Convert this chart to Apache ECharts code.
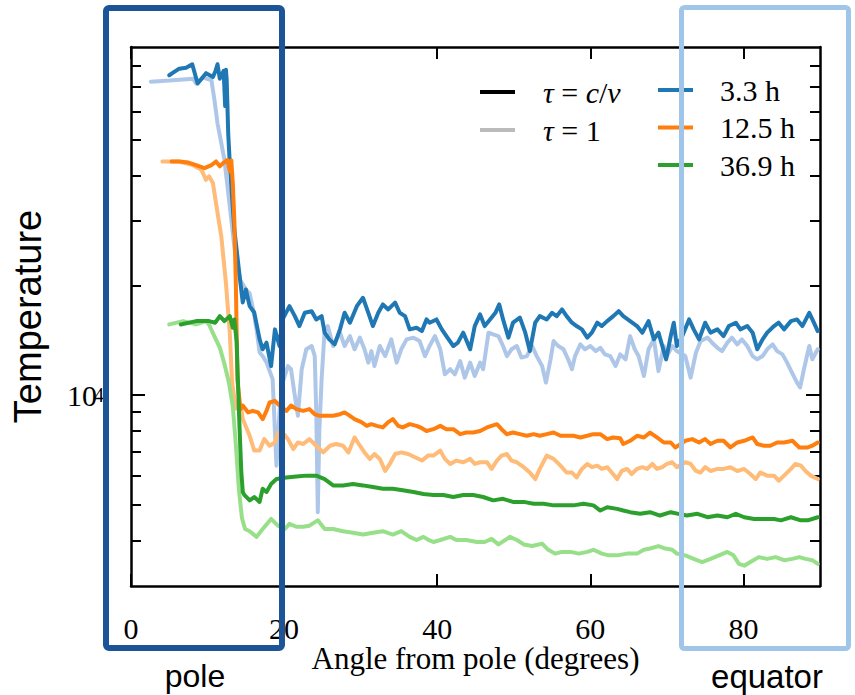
<!DOCTYPE html>
<html>
<head>
<meta charset="utf-8">
<script src="https://cdn.jsdelivr.net/npm/echarts@6/dist/echarts.min.js"></script>
<style>
  html, body { margin: 0; padding: 0; background: #fff; }
  #chart { width: 855px; height: 695px; }
</style>
</head>
<body>
<div id="chart"></div>
<script>
// Axis ticks and ranges
const angleTicks = [0, 20, 40, 60, 80];
const angleRange = [0, 90];
const tempRange = [3000, 90000];
const tempMajorTicks = [10000];
const tempMinorTicks = [4000, 5000, 6000, 7000, 8000, 9000, 20000, 30000, 40000, 50000, 60000, 70000, 80000];

// Legend entries
const times = ['3.3 h', '12.5 h', '36.9 h'];
const depthLabels = ['τ = c/v', 'τ = 1'];

// Temperature (K) against angle from pole (degrees), [angle, T]
const blueCv = [[5.0,75300],[5.4,76300],[6.3,78500],[7.2,79000],[8.0,80700],[8.7,71500],[9.8,76300],[10.7,74500],[11.0,77000],[11.3,80700],[11.6,73700],[12.1,77400],[12.3,62000],[12.4,78000],[12.5,73000],[12.7,52000],[12.9,43300],[13.5,28400],[14.2,21100],[14.6,17960],[15.0,19480],[15.5,17540],[16.1,16850],[16.8,14220],[17.2,13360],[17.7,13930],[18.3,12020],[18.8,15150],[19.4,13640],[19.8,16130],[20.7,17540],[21.4,16470],[22.0,15470],[22.7,16820],[23.6,16990],[24.2,16130],[24.9,16470],[25.3,14840],[25.9,14220],[26.6,13780],[27.3,15150],[27.9,16820],[28.6,15800],[29.5,17540],[30.3,18490],[31.0,16820],[31.6,15470],[32.3,16820],[32.9,17730],[33.6,17180],[34.5,17940],[35.1,16820],[35.8,16470],[36.4,15150],[37.3,15300],[38.0,14990],[38.6,16130],[39.0,15800],[39.9,16130],[40.6,15150],[41.2,14520],[42.1,13640],[42.7,13930],[43.4,14840],[44.3,13360],[44.9,15470],[45.6,16650],[46.2,15470],[46.9,16130],[47.6,16820],[48.1,17730],[48.6,16130],[49.3,14380],[49.9,15800],[50.8,16310],[51.5,14840],[52.1,13210],[52.8,15800],[53.4,16470],[54.3,16130],[55.0,16820],[55.6,16470],[56.3,17180],[56.9,16470],[57.6,15800],[58.2,15470],[58.9,15150],[59.6,14380],[60.2,14840],[60.9,15800],[61.5,15470],[62.2,15960],[63.0,16470],[63.7,16990],[64.3,16470],[65.2,15960],[66.1,15470],[66.8,14840],[67.6,15960],[68.3,14220],[68.9,14840],[69.4,13640],[69.9,12540],[70.5,14520],[70.9,15800],[71.3,13640],[72.0,14500],[72.9,16130],[73.5,15150],[74.2,14220],[75.0,15800],[75.7,14840],[76.6,15150],[77.4,14520],[78.1,15470],[79.0,15800],[79.6,15150],[80.5,15470],[81.2,14840],[81.8,13360],[82.5,14220],[83.1,14840],[84.0,15470],[84.6,15800],[85.3,15150],[86.2,15960],[87.0,16130],[87.7,15470],[88.6,16820],[89.2,15800],[89.7,14990]];

const blueTau1 = [[2.6,72300],[5.0,72800],[8.1,73700],[8.5,71500],[9.4,74200],[10.5,73000],[10.9,64400],[11.3,55600],[11.8,49000],[12.2,44200],[12.9,33000],[13.6,24500],[14.3,20600],[15.0,19500],[15.5,19000],[16.0,17000],[16.4,15150],[16.8,13090],[17.2,12800],[17.7,12300],[18.5,11060],[19.0,6410],[19.4,9000],[19.8,10830],[20.5,12020],[20.9,11780],[21.4,9960],[21.8,8780],[22.3,11780],[22.9,13360],[23.6,13640],[24.0,12800],[24.2,9000],[24.4,4780],[24.6,8000],[24.9,11060],[25.3,15150],[25.7,15470],[26.4,13640],[27.3,14840],[27.9,13640],[28.6,14520],[29.2,13360],[29.9,14380],[30.5,13360],[31.0,12280],[31.4,13210],[31.8,12020],[32.5,13640],[33.2,12800],[34.0,14220],[34.7,12280],[35.3,13360],[36.0,14220],[36.9,14380],[37.7,14080],[38.4,12800],[39.0,13640],[39.7,14520],[40.4,13360],[41.0,11410],[41.7,11780],[42.3,11410],[43.0,12400],[43.6,11170],[44.3,12280],[44.9,11290],[45.6,12280],[46.0,11780],[46.7,14840],[47.3,14680],[48.0,14520],[48.6,13640],[49.1,12800],[49.7,13360],[50.4,13640],[51.0,12680],[51.7,12800],[52.4,13640],[53.0,12800],[53.7,12020],[54.2,10830],[54.8,12540],[55.2,14080],[55.8,13640],[56.5,13360],[57.1,12540],[57.6,11780],[58.0,12800],[58.7,13780],[59.3,13360],[60.0,13640],[60.7,13210],[61.3,13490],[61.9,12940],[62.6,12800],[63.3,12020],[63.9,12940],[64.6,12540],[65.2,14520],[65.8,13360],[66.3,12800],[67.0,11290],[67.6,13360],[68.3,14220],[68.9,11640],[69.6,13640],[70.0,12800],[70.7,13640],[71.3,13210],[72.4,12800],[73.1,11170],[73.8,13090],[74.4,14080],[75.3,14380],[75.9,13930],[76.6,13490],[77.2,13210],[77.9,13930],[78.5,14380],[79.2,13780],[79.8,14220],[80.5,13640],[81.2,12800],[81.8,12540],[82.5,12800],[83.1,13360],[83.8,13780],[84.4,13210],[85.1,12940],[85.7,12280],[86.4,11460],[87.0,10830],[87.4,10500],[87.9,11780],[88.6,13640],[89.0,12540],[89.7,13360]];

const orangeCv = [[5.3,43700],[6.3,43700],[7.5,43400],[8.5,42700],[9.6,41900],[10.5,42700],[11.1,43700],[11.6,42400],[12.0,43200],[12.6,44150],[12.9,41000],[13.1,44000],[13.3,38000],[13.5,30000],[13.7,20000],[13.9,11000],[14.3,9160],[14.6,9370],[15.3,8970],[15.9,9060],[16.6,8970],[17.2,8600],[17.7,9060],[18.1,9550],[18.8,9650],[19.4,9370],[20.3,9060],[20.9,9370],[21.6,9160],[22.5,9060],[23.3,9160],[24.0,8870],[24.6,8780],[25.5,8780],[26.4,8780],[27.3,8870],[27.9,8970],[28.6,8780],[29.2,8600],[30.1,8440],[30.8,8240],[31.4,8330],[32.1,8240],[32.9,8160],[33.6,8440],[34.2,8600],[34.9,8240],[35.5,8160],[36.4,8330],[37.3,8240],[38.0,8120],[38.6,7980],[39.5,8070],[40.4,8240],[41.2,8070],[42.1,8070],[43.0,7820],[43.8,7900],[44.7,7900],[45.6,7980],[46.5,8160],[47.1,8240],[47.8,8330],[48.4,8070],[49.1,7820],[49.9,7900],[50.8,7820],[51.7,7740],[52.6,7820],[53.4,7740],[54.3,7820],[55.2,7900],[56.1,7740],[56.9,7740],[57.8,7740],[58.7,7660],[59.6,7740],[60.4,7820],[61.3,7820],[62.2,7580],[63.0,7660],[63.9,7620],[64.3,7350],[65.2,7500],[66.1,7740],[67.0,7660],[67.8,7900],[68.7,7660],[69.6,7420],[70.5,7420],[71.1,7190],[72.4,7500],[73.3,7580],[74.2,7420],[75.0,7580],[75.7,7350],[76.6,7500],[77.4,7500],[78.3,7190],[79.2,7420],[80.1,7500],[81.2,7660],[81.8,7350],[82.7,7270],[83.5,7270],[84.4,7420],[85.3,7420],[86.4,7500],[87.3,7190],[88.4,7190],[89.0,7270],[89.7,7420]];

const orangeTau1 = [[4.1,43700],[6.3,43700],[8.1,42700],[9.2,41450],[9.8,38930],[10.2,39800],[10.7,38140],[11.1,33600],[11.8,27200],[12.4,20300],[12.9,14840],[13.2,10830],[13.7,9200],[14.4,9200],[14.6,8600],[15.5,7740],[16.1,7050],[16.8,7050],[17.4,7580],[18.1,7270],[18.8,7420],[19.2,7900],[19.8,7900],[20.5,7580],[21.2,7120],[21.8,7420],[22.5,7350],[23.3,7580],[24.2,7270],[25.1,6970],[26.0,7270],[26.8,7350],[27.7,7270],[28.4,6970],[29.2,7660],[29.9,7270],[30.5,6970],[31.2,6690],[31.8,6900],[32.5,6690],[33.2,6200],[33.8,6480],[34.5,6900],[35.3,6970],[36.2,6900],[37.1,6760],[38.0,6620],[38.8,6830],[39.5,6830],[40.4,7050],[41.0,6690],[41.7,6480],[42.5,6620],[43.4,6550],[44.3,6690],[44.9,6480],[45.6,6550],[46.5,6550],[47.1,6280],[47.8,6620],[48.4,6830],[49.1,6900],[49.7,6620],[50.4,6550],[51.3,6350],[52.1,6140],[52.8,5890],[53.4,6280],[54.3,6830],[55.2,6690],[56.1,6410],[56.9,6140],[57.6,6140],[58.2,5950],[58.9,6280],[59.6,6480],[60.2,6350],[60.9,6410],[61.5,6280],[62.2,6350],[62.8,6140],[63.5,5890],[64.1,6200],[64.8,6280],[65.4,6080],[66.1,6280],[66.8,6350],[67.4,6280],[68.1,6480],[68.7,6280],[69.4,6350],[70.0,6480],[70.7,6550],[71.3,6350],[72.4,6550],[73.1,6480],[73.8,6200],[74.4,6140],[75.0,6350],[75.7,6200],[76.6,6280],[77.4,6280],[78.3,6350],[79.2,6200],[80.1,6280],[80.9,6080],[81.6,5890],[82.2,6140],[83.1,6020],[84.0,6020],[84.6,5830],[85.3,6020],[86.2,6280],[86.8,6480],[87.5,6410],[88.1,6200],[88.8,6020],[89.7,5890]];

const greenCv = [[6.5,15630],[8.5,15960],[10.2,15960],[11.0,15800],[11.6,16470],[12.2,15960],[12.9,16470],[13.3,15300],[13.5,16130],[13.8,14000],[14.1,9000],[14.4,6200],[14.6,5430],[14.8,5330],[15.5,5150],[16.1,5260],[16.8,5100],[17.2,5540],[17.7,5430],[18.3,5710],[19.0,5890],[20.3,5950],[21.6,5990],[22.9,6020],[24.2,6020],[25.3,5890],[26.4,5660],[27.7,5660],[29.0,5710],[30.3,5660],[31.6,5600],[32.9,5540],[34.2,5540],[35.5,5490],[36.9,5430],[38.2,5360],[39.5,5330],[40.8,5330],[42.1,5260],[43.4,5330],[44.7,5330],[46.0,5260],[47.3,5150],[48.6,5200],[49.9,5100],[51.3,5100],[52.6,5040],[53.9,5040],[55.2,4990],[56.5,4990],[57.8,4990],[59.1,5040],[60.4,4990],[61.3,4830],[62.2,4930],[63.5,4880],[64.3,4830],[65.2,4780],[66.5,4730],[67.8,4780],[69.1,4680],[70.5,4780],[71.5,4730],[72.6,4680],[74.0,4730],[75.3,4630],[76.6,4680],[77.9,4630],[79.0,4730],[80.1,4630],[81.4,4580],[82.7,4580],[84.0,4580],[84.9,4540],[86.2,4630],[87.5,4540],[88.4,4540],[89.7,4630]];

const greenTau1 = [[5.0,15630],[6.8,15960],[8.5,15630],[9.8,15960],[10.2,15600],[10.9,14500],[11.6,13500],[12.2,12200],[12.8,10800],[13.3,9300],[13.7,7300],[14.1,5500],[14.5,4600],[14.9,4300],[15.5,4240],[16.4,4090],[17.2,4300],[18.3,4580],[19.2,4390],[20.1,4300],[20.7,4440],[21.6,4360],[22.5,4360],[23.3,4390],[24.4,4540],[25.3,4300],[26.4,4300],[27.7,4240],[29.0,4200],[30.3,4150],[31.6,4200],[32.9,4240],[34.2,4150],[35.3,4240],[36.4,4090],[37.3,4010],[38.2,4090],[39.0,4000],[39.5,3960],[40.4,4010],[41.7,4090],[42.5,4010],[43.8,4010],[45.2,3960],[46.2,3960],[47.1,4040],[48.0,3900],[49.5,4090],[50.4,4010],[51.3,3900],[52.4,3860],[53.7,3920],[54.5,3770],[55.4,3680],[56.3,3720],[57.4,3720],[58.5,3680],[59.6,3720],[60.4,3770],[61.5,3680],[62.4,3640],[63.5,3640],[64.8,3680],[66.1,3680],[67.0,3770],[67.8,3800],[68.9,3860],[69.8,3800],[70.7,3770],[71.3,3680],[72.4,3640],[73.5,3560],[74.6,3490],[75.7,3560],[76.8,3640],[77.9,3720],[78.7,3640],[79.4,3450],[80.1,3410],[80.9,3490],[82.0,3600],[83.1,3560],[84.2,3600],[85.3,3530],[86.4,3560],[87.3,3600],[88.1,3560],[89.0,3530],[89.7,3450]];

const SERIF = '"Liberation Serif", "Times New Roman", serif';
const SANS = '"Liberation Sans", Arial, sans-serif';
const lg = Math.log10;
const logRange = [lg(tempRange[0]), lg(tempRange[1])];

const chart = echarts.init(document.getElementById('chart'), null, { renderer: 'svg' });

function line(name, data, color) {
  return {
    name, type: 'line', data, xAxisIndex: 0, yAxisIndex: 0,
    showSymbol: false, symbol: 'none', color,
    lineStyle: { width: 4, color, cap: 'round', join: 'round' },
    emphasis: { disabled: true }, silent: true
  };
}

// Tick-only companion axes sharing the same decade spacing as the log axis
function logTickAxis(position, values, length, opts) {
  return Object.assign({
    type: 'value', position, min: logRange[0], max: logRange[1],
    axisLine: { show: false },
    axisTick: { show: true, inside: true, length, customValues: values.map(lg),
                lineStyle: { color: '#000', width: 2 } },
    axisLabel: { show: false }, splitLine: { show: false }
  }, opts || {});
}

const frameLine = { show: true, lineStyle: { color: '#000', width: 2.5 } };

const option = {
  animation: false,
  backgroundColor: '#fff',
  grid: { left: 131, right: 35, top: 47, bottom: 109 },
  xAxis: [
    {
      type: 'value', position: 'bottom', min: angleRange[0], max: angleRange[1],
      axisLine: frameLine,
      axisTick: { show: true, inside: true, length: 12, customValues: angleTicks,
                  lineStyle: { color: '#000', width: 2 } },
      axisLabel: { customValues: angleTicks, margin: 30, color: '#000',
                   fontFamily: SERIF, fontSize: 30, lineHeight: 24 },
      splitLine: { show: false },
      name: 'Angle from pole (degrees)', nameLocation: 'middle', nameGap: 61,
      nameMoveOverlap: false,
      nameTextStyle: { fontFamily: SERIF, fontSize: 31, lineHeight: 22, color: '#000' }
    },
    {
      type: 'value', position: 'top', min: angleRange[0], max: angleRange[1],
      axisLine: frameLine,
      axisTick: { show: true, inside: true, length: 12, customValues: angleTicks,
                  lineStyle: { color: '#000', width: 2 } },
      axisLabel: { show: false }, splitLine: { show: false }
    }
  ],
  yAxis: [
    { type: 'log', logBase: 10, min: tempRange[0], max: tempRange[1], show: false, splitLine: { show: false } },
    // decade label: base "10"
    logTickAxis('left', tempMajorTicks, 14, {
      axisLine: frameLine,
      axisLabel: {
        show: true, customValues: tempMajorTicks.map(lg), margin: 34,
        color: '#000', fontFamily: SERIF, fontSize: 30, padding: [10, 0, 0, 0],
        formatter: () => '10'
      },
      name: 'Temperature', nameLocation: 'middle', nameGap: 84,
      nameMoveOverlap: false,
      nameTextStyle: { fontFamily: SANS, fontSize: 38, color: '#000' }
    }),
    // decade label: exponent, raised beside the base
    logTickAxis('left', tempMinorTicks, 10, {
      axisLabel: {
        show: true, customValues: tempMajorTicks.map(lg), margin: 27,
        color: '#000', fontFamily: SERIF, fontSize: 20, padding: [0, 0, 12, 0],
        formatter: v => String(Math.round(v))
      }
    }),
    logTickAxis('right', tempMajorTicks, 14, { axisLine: frameLine }),
    logTickAxis('right', tempMinorTicks, 10)
  ],
  legend: [
    {
      data: depthLabels, orient: 'vertical', left: 475, top: 72,
      icon: 'rect', itemWidth: 35, itemHeight: 4, itemGap: 8,
      formatter: name => name.replace(/([τcv])/g, '{i|$1}'),
      textStyle: {
        fontFamily: SERIF, fontSize: 30, color: '#000', padding: [0, 0, 0, 23],
        rich: { i: { fontFamily: SERIF, fontSize: 30, fontStyle: 'italic', color: '#000' } }
      },
      selectedMode: false
    },
    {
      data: times, orient: 'vertical', left: 653, top: 70,
      icon: 'rect', itemWidth: 35, itemHeight: 4, itemGap: 7.5,
      textStyle: { fontFamily: SERIF, fontSize: 30, color: '#000', padding: [0, 0, 0, 22] },
      selectedMode: false
    }
  ],
  series: [
    // legend swatches for the two optical depths
    line(depthLabels[0], [], '#000000'),
    line(depthLabels[1], [], '#bbbbbb'),
    line(times[0] + ' (τ = 1)', blueTau1, '#aec7e8'),
    line(times[0], blueCv, '#1f77b4'),
    line(times[1] + ' (τ = 1)', orangeTau1, '#ffbb78'),
    line(times[1], orangeCv, '#ff7f0e'),
    line(times[2] + ' (τ = 1)', greenTau1, '#98df8a'),
    line(times[2], greenCv, '#2ca02c')
  ],
  graphic: [
    { type: 'rect', z: 100, silent: true,
      shape: { x: 106, y: 8, width: 176, height: 640, r: 3 },
      style: { fill: 'none', stroke: '#1b5497', lineWidth: 6 } },
    { type: 'rect', z: 100, silent: true,
      shape: { x: 681.5, y: 7.5, width: 167, height: 641, r: 3 },
      style: { fill: 'none', stroke: '#9fc5e8', lineWidth: 5 } },
    { type: 'text', z: 100, silent: true, x: 195, y: 676,
      style: { text: 'pole', fontFamily: SANS, fontSize: 32, fill: '#000', align: 'center', verticalAlign: 'middle' } },
    { type: 'text', z: 100, silent: true, x: 767, y: 676,
      style: { text: 'equator', fontFamily: SANS, fontSize: 33, fill: '#000', align: 'center', verticalAlign: 'middle' } }
  ]
};

chart.setOption(option);
</script>
</body>
</html>
